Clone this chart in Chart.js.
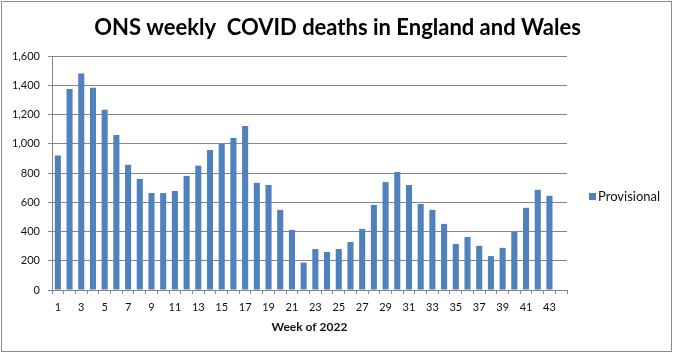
<!DOCTYPE html>
<html>
<head>
<meta charset="utf-8">
<title>ONS weekly COVID deaths</title>
<script src="https://cdn.jsdelivr.net/npm/chart.js@4/dist/chart.umd.min.js"></script>
<style>
  html, body { margin: 0; padding: 0; background: #fff; }
  #wrap { position: relative; width: 675px; height: 354px; }
</style>
</head>
<body>
<div id="wrap"><canvas id="covidChart" width="675" height="354"></canvas></div>
<script>
// DATA
var weeks = [];
for (var w = 1; w <= 44; w++) { weeks.push(String(w)); }

var provisional = [
  920, 1375, 1480, 1383, 1232, 1060, 856, 760, 663, 663,
  677, 780, 850, 958, 998, 1040, 1122, 733, 718, 548,
  410, 187, 280, 260, 280, 328, 418, 582, 738, 807,
  718, 588, 548, 452, 315, 362, 302, 232, 288, 398,
  562, 685, 644, null
];

var yTicks = [0, 200, 400, 600, 800, 1000, 1200, 1400, 1600];

var chartTitle = 'ONS weekly  COVID deaths in England and Wales';

var FONT = "Lato, 'Open Sans', sans-serif";
var GRID = '#868686';

// grey frame round the whole picture + title centred on the full width
var frame = {
  id: 'frame',
  afterDraw: function(chart) {
    var ctx = chart.ctx;
    ctx.save();
    ctx.strokeStyle = '#8c8c8c';
    ctx.lineWidth = 1;
    ctx.strokeRect(1.5, 1.5, 670, 350);

    ctx.fillStyle = '#000';
    ctx.font = 'bold 22px ' + FONT;
    ctx.textAlign = 'center';
    ctx.textBaseline = 'alphabetic';
    ctx.fillText(chartTitle, chart.width / 2, 35);
    ctx.restore();
  }
};

// legend on the right, drawn from the dataset itself
var sideLegend = {
  id: 'sideLegend',
  afterDraw: function(chart) {
    var ctx = chart.ctx;
    var ds = chart.data.datasets[0];
    ctx.save();
    ctx.fillStyle = ds.backgroundColor;
    ctx.fillRect(589, 193, 7, 7);
    ctx.fillStyle = '#111';
    ctx.font = '13px ' + FONT;
    ctx.textBaseline = 'middle';
    ctx.fillText(ds.label, 598, 197);
    ctx.restore();
  }
};

var chart = new Chart(document.getElementById('covidChart'), {
  type: 'bar',
  data: {
    labels: weeks,
    datasets: [{
      label: 'Provisional',
      data: provisional,
      backgroundColor: '#4F81BD',
      borderWidth: 0,
      barPercentage: 0.52,
      categoryPercentage: 1.0
    }]
  },
  options: {
    responsive: false,
    animation: false,
    devicePixelRatio: 1,
    layout: {
      padding: { left: 0, right: 108, top: 56, bottom: 0 }
    },
    plugins: {
      legend: { display: false },
      tooltip: { enabled: false },
      title: { display: false }
    },
    scales: {
      x: {
        grid: {
          drawOnChartArea: false,
          drawTicks: true,
          tickLength: 4,
          color: GRID,
          offset: true
        },
        border: { color: GRID },
        ticks: {
          autoSkip: false,
          maxRotation: 0,
          minRotation: 0,
          color: '#111',
          padding: 7,
          font: { family: FONT, size: 11 },
          callback: function(value, index) {
            return index % 2 === 0 ? weeks[index] : '';
          }
        },
        title: {
          display: true,
          text: 'Week of 2022',
          color: '#111',
          font: { family: FONT, size: 12, weight: 'bold' },
          padding: { top: 4, bottom: 20 }
        },
        afterFit: function(scale) { scale.height = 64; }
      },
      y: {
        min: 0,
        max: 1600,
        afterBuildTicks: function(scale) {
          scale.ticks = yTicks.map(function(v) { return { value: v }; });
        },
        grid: {
          color: GRID,
          tickLength: 4
        },
        border: { color: GRID },
        ticks: {
          color: '#111',
          padding: 8,
          font: { family: FONT, size: 11 }
        },
        afterFit: function(scale) { scale.width = 52; }
      }
    }
  },
  plugins: [frame, sideLegend]
});
</script>
</body>
</html>
